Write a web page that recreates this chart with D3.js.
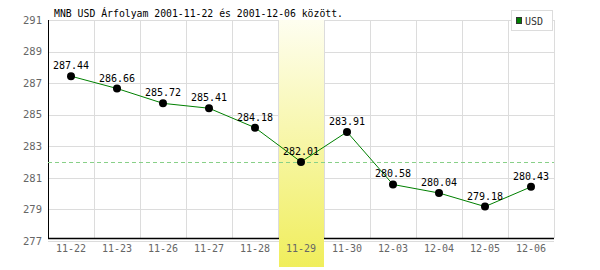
<!DOCTYPE html>
<html>
<head>
<meta charset="utf-8">
<script src="https://cdn.jsdelivr.net/npm/d3@7"></script>
<style>
body { margin: 0; background: #fff; }
text { font-family: "DejaVu Sans Mono", monospace; }
</style>
</head>
<body>
<div id="chart"></div>
<script>
var dates = ["11-22", "11-23", "11-26", "11-27", "11-28", "11-29", "11-30", "12-03", "12-04", "12-05", "12-06"];
var rates = [287.44, 286.66, 285.72, 285.41, 284.18, 282.01, 283.91, 280.58, 280.04, 279.18, 280.43];
var yTicks = [277, 279, 281, 283, 285, 287, 289, 291];
var highlightDay = "11-29";
var title = "MNB USD Árfolyam 2001-11-22 és 2001-12-06 között.";
var seriesName = "USD";

var svgwidth = 600;
var svgheight = 270;
var margin = { top: 20, left: 48, right: 46, bottom: 29 };

var svg = d3.select("#chart").append("svg").attr("width", svgwidth).attr("height", svgheight);

var x = d3.scaleBand().domain(dates).range([margin.left, svgwidth - margin.right]);
var y = d3.scaleLinear().domain([277, 291]).range([svgheight - margin.bottom, margin.top]);

var hl = rates[dates.indexOf(highlightDay)];

// gradient for highlighted day
var grad = svg.append("defs").append("linearGradient")
    .attr("id", "hlgrad").attr("x1", 0).attr("y1", 0).attr("x2", 0).attr("y2", 1);
grad.append("stop").attr("offset", "0%").attr("stop-color", "#fefef0");
grad.append("stop").attr("offset", "100%").attr("stop-color", "#f0ee5c");

// horizontal grid
svg.append("g").selectAll("line").data(yTicks).enter().append("line")
    .attr("x1", margin.left).attr("x2", svgwidth - margin.right)
    .attr("y1", d => Math.round(y(d)) + 0.5).attr("y2", d => Math.round(y(d)) + 0.5)
    .attr("stroke", "#dcdcdc");

// vertical grid
svg.append("g").selectAll("line").data(dates).enter().append("line")
    .attr("x1", d => x(d) + x.bandwidth() + 0.5).attr("x2", d => x(d) + x.bandwidth() + 0.5)
    .attr("y1", y(291)).attr("y2", y(277) - 3)
    .attr("stroke", "#dcdcdc");

// axes lines
svg.append("line")
    .attr("x1", margin.left + 0.5).attr("x2", margin.left + 0.5)
    .attr("y1", y(291)).attr("y2", y(277) - 3)
    .attr("stroke", "#000");
svg.append("line")
    .attr("x1", margin.left).attr("x2", svgwidth - margin.right)
    .attr("y1", Math.round(y(277)) - 3 + 0.5).attr("y2", Math.round(y(277)) - 3 + 0.5)
    .attr("stroke", "#000").attr("stroke-width", 1.5);

// highlight band
svg.append("rect")
    .attr("x", x(highlightDay) + 1).attr("width", x.bandwidth() - 1)
    .attr("y", y(291)).attr("height", svgheight - 3 - y(291))
    .attr("fill", "url(#hlgrad)");

// reference line at highlighted value
svg.append("line")
    .attr("x1", margin.left).attr("x2", svgwidth - margin.right)
    .attr("y1", Math.round(y(hl)) + 0.5).attr("y2", Math.round(y(hl)) + 0.5)
    .attr("stroke", "#88d088").attr("stroke-dasharray", "4,3");

// y tick labels
svg.append("g").selectAll("text").data(yTicks).enter().append("text")
    .attr("x", 42).attr("y", d => y(d)).attr("dy", "0.35em")
    .attr("text-anchor", "end").attr("fill", "#666").attr("font-size", 10.5)
    .text(d => d);

// x tick labels
svg.append("g").selectAll("text").data(dates).enter().append("text")
    .attr("x", d => x(d) + x.bandwidth() / 2).attr("y", 252)
    .attr("text-anchor", "middle").attr("fill", "#666").attr("font-size", 10)
    .text(d => d);

// line
var line = d3.line()
    .x((d, i) => x(dates[i]) + x.bandwidth() / 2)
    .y(d => y(d));
svg.append("path").datum(rates)
    .attr("d", line).attr("fill", "none")
    .attr("stroke", "#008000").attr("stroke-width", 1);

svg.append("g").selectAll("circle").data(rates).enter().append("circle")
    .attr("cx", (d, i) => x(dates[i]) + x.bandwidth() / 2)
    .attr("cy", d => y(d)).attr("r", 4).attr("fill", "#000");

svg.append("g").selectAll("text").data(rates).enter().append("text")
    .attr("x", (d, i) => x(dates[i]) + x.bandwidth() / 2)
    .attr("y", d => y(d) - 7)
    .attr("text-anchor", "middle").attr("fill", "#000").attr("font-size", 10)
    .text(d => d.toFixed(2));

// title
svg.append("text")
    .attr("x", 54).attr("y", 17)
    .attr("fill", "#000").attr("font-size", 9.8)
    .text(title);

// legend
var lg = svg.append("g");
lg.append("rect").attr("x", 511.5).attr("y", 10.5).attr("width", 41).attr("height", 20)
    .attr("fill", "#fff").attr("stroke", "#dcdcdc");
lg.append("rect").attr("x", 516.5).attr("y", 17.5).attr("width", 5).attr("height", 6)
    .attr("fill", "#008000").attr("stroke", "#333");
lg.append("text").attr("x", 525).attr("y", 24.5)
    .attr("fill", "#333").attr("font-size", 10)
    .attr("font-family", "'Liberation Sans Narrow', 'DejaVu Sans Condensed', sans-serif")
    .text(seriesName);
</script>
</body>
</html>
